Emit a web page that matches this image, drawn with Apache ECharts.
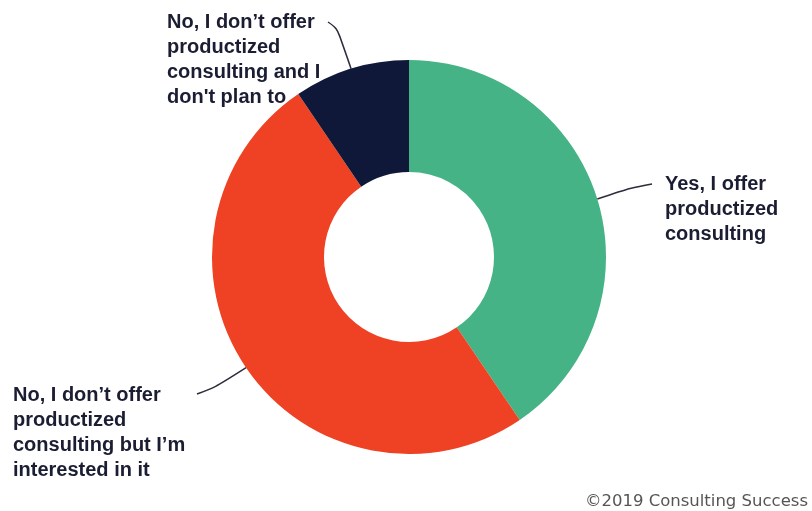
<!DOCTYPE html>
<html>
<head>
<meta charset="utf-8">
<script src="https://cdn.jsdelivr.net/npm/echarts@6/dist/echarts.min.js"></script>
<style>
  html, body { margin: 0; padding: 0; background: #ffffff; }
  #chart { width: 812px; height: 511px; }
</style>
</head>
<body>
<div id="chart"></div>
<script>
// Survey answers: do you offer productized consulting?
const categories = [
  "Yes, I offer\nproductized\nconsulting",
  "No, I don\u2019t offer\nproductized\nconsulting but I\u2019m\ninterested in it",
  "No, I don\u2019t offer\nproductized\nconsulting and I\ndon't plan to"
];
const shares = [40.5, 50.0, 9.5];
const colors = ["#45b386", "#ef4123", "#0f1838"];

// Where each answer's text block sits and how its leader line bends
const labelSpots = [
  { x: 665, y: 172, bend: [630, 188], end: [652, 184] },
  { x: 13,  y: 383, bend: [216, 387], end: [197, 394] },
  { x: 167, y: 10,  bend: [337, 28],  end: [328, 22] }
];

const chart = echarts.init(document.getElementById("chart"), null, { renderer: "canvas" });

chart.setOption({
  animation: false,
  title: {
    text: "\u00a92019 Consulting Success",
    right: 4,
    bottom: 1,
    padding: 0,
    textStyle: {
      fontFamily: "DejaVu Sans",
      fontSize: 16.5,
      fontWeight: "normal",
      color: "#555555"
    }
  },
  series: [{
    type: "pie",
    center: [409, 257],
    radius: [85, 197],
    startAngle: 90,
    clockwise: true,
    avoidLabelOverlap: false,
    data: categories.map((name, i) => ({
      name: name,
      value: shares[i],
      itemStyle: { color: colors[i] }
    })),
    label: {
      show: true,
      position: "outside",
      formatter: "{b}",
      fontFamily: "Liberation Sans",
      fontWeight: "bold",
      fontSize: 20,
      lineHeight: 25,
      color: "#1b1d33",
      align: "left"
    },
    labelLine: {
      show: true,
      smooth: 0.35,
      length: 20,
      length2: 20,
      lineStyle: { color: "#2b2d3c", width: 1.5 }
    },
    labelLayout: function (params) {
      const s = labelSpots[params.dataIndex];
      const start = params.labelLinePoints ? params.labelLinePoints[0] : null;
      const out = {
        x: s.x,
        y: s.y,
        align: "left",
        verticalAlign: "top"
      };
      if (start) {
        out.labelLinePoints = [start, s.bend, s.end];
      }
      return out;
    },
    emphasis: { disabled: true }
  }]
});
</script>
</body>
</html>
